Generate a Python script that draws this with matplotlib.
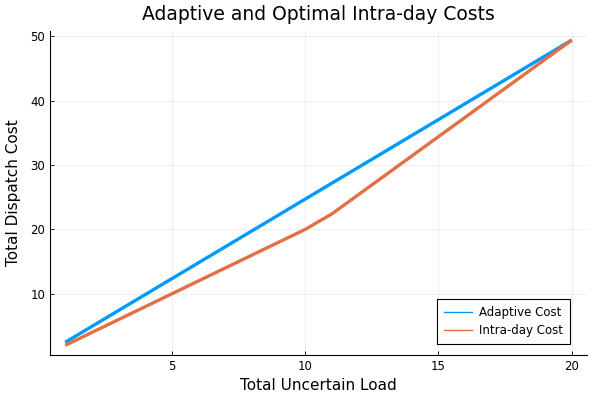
import matplotlib
matplotlib.use("Agg")
import matplotlib.pyplot as plt
from matplotlib.lines import Line2D

# Data
load = list(range(1, 21))
adaptive_cost = [2.47 * k for k in load]
intraday_cost = [2.0, 4.0, 6.0, 8.0, 10.0, 12.0, 14.0, 16.0, 18.0, 20.0,
                 22.4, 25.4, 28.4, 31.4, 34.4, 37.4, 40.4, 43.4, 46.4, 49.4]
xticks = [5, 10, 15, 20]
yticks = [10, 20, 30, 40, 50]

blue = "#009AFA"
orange = "#E26F46"

fig = plt.figure(figsize=(6, 4), dpi=100)
ax = fig.add_axes([50 / 600, 45 / 400, 537 / 600, 324 / 400])

ax.plot(load, adaptive_cost, color=blue, lw=2.4, solid_capstyle="butt")
ax.plot(load, intraday_cost, color=orange, lw=2.4, solid_capstyle="butt")

ax.set_xlim(0.43, 20.57)
ax.set_ylim(0.5, 50.8)
ax.set_xticks(xticks)
ax.set_yticks(yticks)
ax.grid(True, color="#000000", alpha=0.08, lw=0.6)
for s in ["top", "right"]:
    ax.spines[s].set_visible(False)
for s in ["left", "bottom"]:
    ax.spines[s].set_linewidth(0.8)
ax.tick_params(labelsize=8.5, length=3, width=0.6, direction="in")

ax.set_title("Adaptive and Optimal Intra-day Costs", fontsize=13.5, pad=8)
ax.set_xlabel("Total Uncertain Load", fontsize=11)
ax.set_ylabel("Total Dispatch Cost", fontsize=11, labelpad=7)

handles = [Line2D([], [], color=blue, lw=1), Line2D([], [], color=orange, lw=1)]
leg = ax.legend(handles, ["Adaptive Cost", "Intra-day Cost"], loc="lower right",
                fontsize=8.5, fancybox=False, framealpha=1, edgecolor="black",
                handlelength=2.3, borderpad=0.6, handletextpad=0.6,
                labelspacing=0.4, borderaxespad=0,
                bbox_to_anchor=(0.968, 0.034))
leg.get_frame().set_linewidth(0.8)

fig.savefig("out.png", dpi=100)
